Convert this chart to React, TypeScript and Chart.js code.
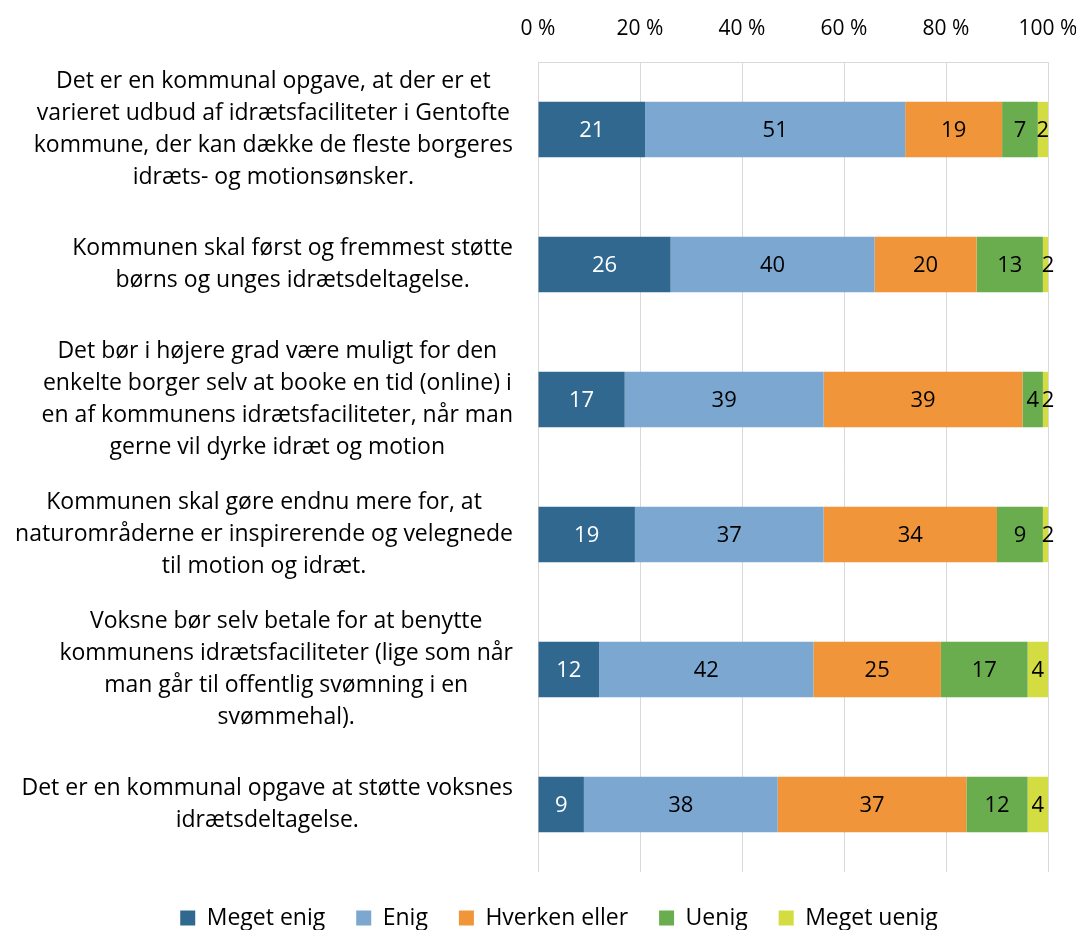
import React, { useEffect, useRef } from "react";
import { Chart, registerables } from "chart.js";

Chart.register(...registerables);

const categories: string[][] = [
  [
    "Det er en kommunal opgave, at der er et",
    "varieret udbud af idrætsfaciliteter i Gentofte",
    "kommune, der kan dække de fleste borgeres",
    "idræts- og motionsønsker.",
  ],
  ["Kommunen skal først og fremmest støtte", "børns og unges idrætsdeltagelse."],
  [
    "Det bør i højere grad være muligt for den",
    "enkelte borger selv at booke en tid (online) i",
    "en af kommunens idrætsfaciliteter, når man",
    "gerne vil dyrke idræt og motion",
  ],
  [
    "Kommunen skal gøre endnu mere for, at",
    "naturområderne er inspirerende og velegnede",
    "til motion og idræt.",
  ],
  [
    "Voksne bør selv betale for at benytte",
    "kommunens idrætsfaciliteter (lige som når",
    "man går til offentlig svømning i en",
    "svømmehal).",
  ],
  ["Det er en kommunal opgave at støtte voksnes", "idrætsdeltagelse."],
];

const seriesNames = ["Meget enig", "Enig", "Hverken eller", "Uenig", "Meget uenig"];
const megetEnig = [21, 26, 17, 19, 12, 9];
const enig = [51, 40, 39, 37, 42, 38];
const hverkenEller = [19, 20, 39, 34, 25, 37];
const uenig = [7, 13, 4, 9, 17, 12];
const megetUenig = [2, 2, 2, 2, 4, 4];
const xTicks = [0, 20, 40, 60, 80, 100];

const colors = ["#30688f", "#7ba7d0", "#f0953a", "#69ad4f", "#d3dc40"];
const labelColors = ["#ffffff", "#000000", "#000000", "#000000", "#000000"];
const FONT = '"Open Sans", sans-serif';
const LEGEND_PAD = 31;
const LEGEND_FONT = 23;
const W = 1068;
const H = 922;

const yLabelPlugin = {
  id: "yLabelPlugin",
  afterDraw(chart: any) {
    const ctx = chart.ctx;
    const yScale = chart.scales.y;
    const area = chart.chartArea;
    ctx.save();
    ctx.font = `23px ${FONT}`;
    ctx.fillStyle = "#000000";
    ctx.textAlign = "center";
    ctx.textBaseline = "middle";
    categories.forEach((lines, i) => {
      const yc = yScale.getPixelForValue(i);
      const w = Math.max(...lines.map((l) => ctx.measureText(l).width));
      const cx = area.left - 25 - w / 2;
      lines.forEach((l, j) => {
        ctx.fillText(l, cx, yc + (j - (lines.length - 1) / 2) * 32);
      });
    });
    ctx.restore();
  },
};

const valueLabelPlugin = {
  id: "valueLabelPlugin",
  afterDatasetsDraw(chart: any) {
    const ctx = chart.ctx;
    ctx.save();
    ctx.font = `22px ${FONT}`;
    ctx.textAlign = "center";
    ctx.textBaseline = "middle";
    chart.data.datasets.forEach((ds: any, di: number) => {
      const meta = chart.getDatasetMeta(di);
      ctx.fillStyle = labelColors[di];
      meta.data.forEach((bar: any, i: number) => {
        const x = (bar.x + bar.base) / 2;
        ctx.fillText(String(ds.data[i]), x, bar.y + 1);
      });
    });
    ctx.restore();
  },
};

const legendPosPlugin = {
  id: "legendPosPlugin",
  beforeLayout(chart: any) {
    const lg = chart.legend;
    if (lg && !lg._fixedFit) {
      const orig = lg.fit.bind(lg);
      lg.fit = () => {
        orig();
        lg.height = 58;
      };
      lg._fixedFit = true;
    }
  },
  afterLayout(chart: any) {
    const lg = chart.legend;
    if (lg) {
      lg.left += 31;
      lg.right += 31;
      lg.top = 910 - (LEGEND_PAD + LEGEND_FONT / 2);
      lg.bottom = chart.height;
      lg.height = lg.bottom - lg.top;
    }
  },
};

export default function App() {
  const ref = useRef<HTMLCanvasElement>(null);
  useEffect(() => {
    if (!ref.current) return;
    const seriesData = [megetEnig, enig, hverkenEller, uenig, megetUenig];
    const chart = new Chart(ref.current, {
      type: "bar",
      data: {
        labels: categories,
        datasets: seriesData.map((d, i) => ({
          label: seriesNames[i],
          data: d,
          backgroundColor: colors[i],
          borderWidth: 0,
          categoryPercentage: 1,
          barPercentage: 0.41,
        })),
      },
      options: {
        indexAxis: "y",
        animation: false,
        responsive: false,
        devicePixelRatio: 1,
        layout: { padding: { top: 10, right: 28, left: 0, bottom: 0 } },
        scales: {
          x: {
            type: "linear",
            position: "top",
            stacked: true,
            min: 0,
            max: 100,
            afterBuildTicks(s: any) {
              s.ticks = xTicks.map((v) => ({ value: v }));
            },
            afterFit(s: any) {
              s.height = 44;
              s.paddingLeft = 0;
              s.paddingRight = 0;
            },
            ticks: {
              padding: 20,
              color: "#000000",
              font: { family: FONT, size: 21 },
              callback: (v: any) => `${v} %`,
            },
            grid: { color: "#d9d9d9", lineWidth: 1, drawTicks: false },
            border: { display: true, color: "#d9d9d9" },
          },
          y: {
            stacked: true,
            ticks: { display: false },
            grid: { display: false },
            border: { display: false },
            afterFit(s: any) {
              s.width = 530;
              s.paddingTop = 0;
              s.paddingBottom = 0;
            },
          },
        },
        plugins: {
          legend: {
            position: "bottom",
            labels: {
              boxWidth: 15,
              boxHeight: 15,
              padding: LEGEND_PAD,
              color: "#000000",
              font: { family: FONT, size: LEGEND_FONT },
            },
          },
          tooltip: { enabled: false },
        },
      },
      plugins: [yLabelPlugin, valueLabelPlugin, legendPosPlugin],
    } as any);
    return () => chart.destroy();
  }, []);
  return (
    <div style={{ width: W, height: H }}>
      <canvas ref={ref} width={W} height={H} style={{ display: "block", width: W, height: H }} />
    </div>
  );
}
